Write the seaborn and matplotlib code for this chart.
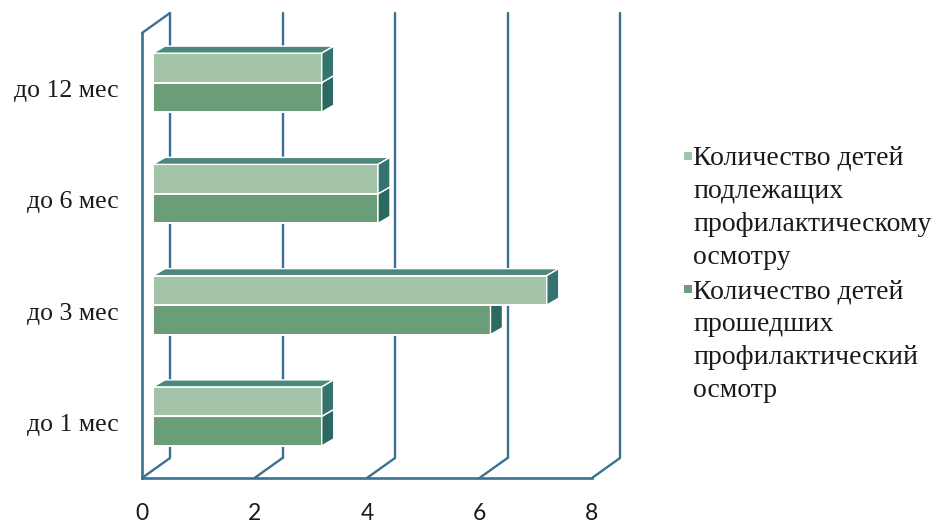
import matplotlib
matplotlib.use("Agg")
import matplotlib.pyplot as plt
from matplotlib.patches import Polygon, Rectangle
import seaborn as sns
import pandas as pd

# --- data -------------------------------------------------------------
ages = ["до 1 мес", "до 3 мес", "до 6 мес", "до 12 мес"]
due_for_exam = [3, 7, 4, 3]        # подлежащих профилактическому осмотру
examined = [3, 6, 4, 3]            # прошедших профилактический осмотр
series_names = [
    "Количество детей\nподлежащих\nпрофилактическому\nосмотру",
    "Количество детей\nпрошедших\nпрофилактический\nосмотр",
]
x_ticks = [0, 2, 4, 6, 8]

df = pd.DataFrame({
    "age": ages * 2,
    "value": due_for_exam + examined,
    "series": [series_names[0]] * len(ages) + [series_names[1]] * len(ages),
})

# --- style ------------------------------------------------------------
sns.set_theme(style="white")
LINE = "#3a7192"
LIGHT = "#a4c4a9"
DARK = "#6c9d79"
TOP = {LIGHT: "#4c887b", DARK: "#437d71"}
SIDE = {LIGHT: "#357370", DARK: "#2c6962"}
serif = "Liberation Serif"

W, H = 932, 523
fig = plt.figure(figsize=(W / 100, H / 100), dpi=100)
ax = fig.add_axes([142 / W, (H - 478) / H, 450 / W, 445 / H])

sns.barplot(data=df, x="value", y="age", hue="series",
            order=ages[::-1], hue_order=series_names,
            palette=[LIGHT, DARK], width=0.53, orient="h",
            saturation=1, edgecolor="white", linewidth=1.4,
            legend=False, ax=ax)

ax.set_xlim(0, 8)
ax.set_ylim(3.5, -0.5)

# pixel -> data conversion for the oblique projection
PX_X = 450 / 8
PX_Y = 445 / 4


def off(dx_px, up_px):
    return dx_px / PX_X, -up_px / PX_Y


face_dx, face_dy = off(11, 6)      # bars sit inside the box
deep_dx, deep_dy = off(12, 7)      # bar depth
wall_dx, wall_dy = off(28, 20)     # back wall depth

# back wall grid and floor lines
for xv in x_ticks:
    ax.plot([xv, xv + wall_dx], [3.5, 3.5 + wall_dy], color=LINE, lw=1.7,
            clip_on=False, zorder=1, solid_capstyle="butt")
    ax.plot([xv + wall_dx, xv + wall_dx], [3.5 + wall_dy, -0.5 + wall_dy],
            color=LINE, lw=1.7, clip_on=False, zorder=1)
ax.plot([0, wall_dx], [-0.5, -0.5 + wall_dy], color=LINE, lw=1.7,
        clip_on=False, zorder=1)

# 3D bar faces
for cont, base_z in zip(ax.containers, [4, 2]):
    for bar in cont:
        bar.set_x(bar.get_x() + face_dx)
        bar.set_y(bar.get_y() + face_dy)
        bar.set_zorder(base_z)
        col = matplotlib.colors.to_hex(bar.get_facecolor())
        key = LIGHT if col.lower() == LIGHT else DARK
        x0 = bar.get_x()
        x1 = x0 + bar.get_width()
        yt = bar.get_y()
        yb = yt + bar.get_height()
        top = Polygon([(x0, yt), (x1, yt), (x1 + deep_dx, yt + deep_dy),
                       (x0 + deep_dx, yt + deep_dy)], closed=True,
                      facecolor=TOP[key], edgecolor="white", lw=1.0,
                      zorder=base_z + 0.5, clip_on=False)
        side = Polygon([(x1, yt), (x1, yb), (x1 + deep_dx, yb + deep_dy),
                        (x1 + deep_dx, yt + deep_dy)], closed=True,
                       facecolor=SIDE[key], edgecolor="white", lw=1.0,
                       zorder=base_z + 0.5, clip_on=False)
        ax.add_patch(top)
        ax.add_patch(side)

# front axes
for s in ["top", "right"]:
    ax.spines[s].set_visible(False)
for s in ["left", "bottom"]:
    ax.spines[s].set_color(LINE)
    ax.spines[s].set_linewidth(1.9)
    ax.spines[s].set_zorder(6)

ax.set_xticks(x_ticks)
ax.set_xticklabels([str(v) for v in x_ticks], family="Lato", fontsize=16.5,
                   color="#1a1a1a")
ax.tick_params(axis="x", length=4, width=1.6, color=LINE, pad=14)
ax.set_yticks(range(len(ages)))
ax.set_yticklabels(ages[::-1], family=serif, fontsize=18.5, color="#1a1a1a")
ax.set_yticks([-0.5, 0.5, 1.5, 2.5, 3.5], minor=True)
ax.tick_params(axis="y", which="major", length=0, pad=17)
ax.tick_params(axis="y", which="minor", length=4, width=1.6, color=LINE)
ax.set_xlabel("")
ax.set_ylabel("")
ax.grid(False)

# legend
legend_items = [(series_names[0], LIGHT, 146), (series_names[1], DARK, 279)]
for text, col, top_px in legend_items:
    fig.text(693 / W, 1 - top_px / H, text, family=serif, fontsize=20,
             color="#1a1a1a", va="top", ha="left", linespacing=1.42)
    fig.patches.append(Rectangle((684 / W, 1 - (top_px + 14) / H), 8 / W, 8 / H,
                                 transform=fig.transFigure, facecolor=col,
                                 edgecolor="none"))

fig.savefig("out.png", dpi=100)
